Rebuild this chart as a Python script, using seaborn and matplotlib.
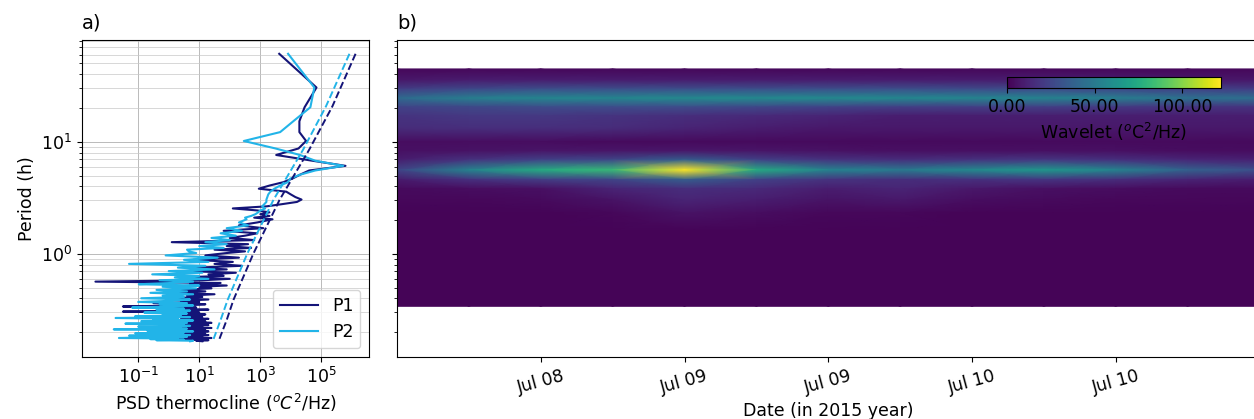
import numpy as np
import pandas as pd
import seaborn as sns
import matplotlib.pyplot as plt
import matplotlib.dates as mdates
import matplotlib.ticker as mticker

plt.rcParams['font.size'] = 12.5

# === 1. Spectra (panel a) ===
record_length_h = 61.0
harmonic = list(range(1, 31)) + list(range(32, 61, 2)) + list(range(63, 121, 3)) + list(range(124, 369, 4))

# log10 of PSD
p1_log_psd = [3.62, 4.84, 4.45, 4.28, 4.28, 4.5, 4.25, 3.52, 4.7, 5.79,
              4.6, 4.3, 4.05, 3.75, 3.3, 2.95, 3.85, 4.0, 4.15, 4.35,
              4.2, 3.7, 3.2, 2.1, 2.9, 3.3, 3.0, 3.3, 2.8, 3.4,
              2.9, 2.3, 3.1, 1.8, 2.9, 2.5, 2.0, 2.8, 0.1, 2.6, 1.9, 2.7, 1.5, 2.5, 1.9,
              1.2, 2.3, 0.8, 2.1, 1.5, 2.4, 0.9, 1.9, 0.6, 2.2,
              1.3, 1.8, 0.4, 2.0, 1.1, -2.4, 1.7, 0.7, 1.9, 1.0,
              1.4, 0.3, 1.2, -0.1, 1.5, 0.6, 1.1, 0.0, 1.3, 0.4,
              1.0, -0.5, 1.2, 0.5, -1.5, 0.9, 0.2, 1.3, 0.6, -1.5,
              1.0, 0.3, 1.2, 0.7, -0.3, 1.1, 0.4, 1.3, 0.8, 0.0,
              1.2, 0.5, 1.4, -0.6, 0.9, 1.3, 0.2, 1.1, 0.6, 1.4,
              -0.9, 0.8, 1.2, 0.1, 1.3, 0.7, 1.0, -0.4, 1.2, 0.5,
              1.3, 0.9, -0.2, 1.1, 0.6, 1.4, 0.3, 1.2, 0.8, 1.3,
              0.9, 1.1]
p2_log_psd = [3.91, 4.77, 4.64, 4.08, 3.65, 2.46, 3.5, 4.3, 4.8, 5.72,
              4.8, 4.3, 3.98, 3.9, 3.65, 3.46, 3.33, 3.26, 3.23, 3.2,
              3.2, 3.13, 3.06, 3.16, 3.0, 2.93, 2.84, 2.7, 2.5, 2.55,
              2.3, 2.6, 1.9, 2.4, 1.7, 2.2, 1.4, 2.0, 1.2, 1.9, 1.0, 1.8, 0.6, 0.66, 0.9,
              -0.1, 1.6, 0.5, 1.3, -1.3, 1.2, 0.3, 1.5, 0.0, 1.1,
              -0.54, 1.0, 0.2, 1.3, -0.3, 0.8, 0.1, -0.98, 1.0, -0.2,
              0.9, -0.4, 0.6, -0.6, 0.8, -0.2, 0.5, -0.9, 0.7, 0.1,
              -1.0, 0.6, -0.3, 0.8, 0.0, -1.2, 0.5, -0.4, 0.7, 0.1,
              -0.8, 0.6, -0.2, 0.4, -1.1, 0.7, -1.74, 0.3, -0.5, 0.8,
              -0.9, 0.2, 0.6, -1.42, 0.5, -0.3, 0.7, -1.0, 0.4, -0.6,
              0.6, -1.8, 0.3, -0.7, 0.8, -0.2, 0.5, -1.1, 0.4, -0.5,
              0.7, -1.3, 0.2, 0.6, -0.8, -1.63, 0.3, -0.6, 0.5, -0.4,
              0.8, 0.7]

# significance curves (dashed)
signif_period_h = [61.0, 20.7, 8.49, 3.03, 1.0, 0.388, 0.257, 0.168]
p1_signif_log = [6.12, 5.36, 4.60, 3.63, 2.77, 2.12, 1.90, 1.64]
p2_signif_log = [5.92, 5.15, 4.40, 3.43, 2.57, 1.93, 1.70, 1.45]

c_p1 = '#141478'
c_p2 = '#22b4e8'

spec = pd.DataFrame({'period': record_length_h / np.array(harmonic),
                     'P1': 10 ** np.array(p1_log_psd),
                     'P2': 10 ** np.array(p2_log_psd)})
signif = pd.DataFrame({'period': signif_period_h,
                       'P1': 10 ** np.array(p1_signif_log),
                       'P2': 10 ** np.array(p2_signif_log)})

# === 2. Wavelet power (panel b) ===
wave_times = ['2015-07-08 00:00', '2015-07-08 06:00', '2015-07-08 12:00', '2015-07-08 18:00',
              '2015-07-09 00:00', '2015-07-09 06:00', '2015-07-09 12:00', '2015-07-09 18:00',
              '2015-07-10 00:00', '2015-07-10 06:00', '2015-07-10 12:00', '2015-07-10 18:00',
              '2015-07-11 00:00']
wave_period_h = [44.7, 35.5, 29.5, 24.5, 20.4, 17.0, 13.2, 10.0, 8.3, 6.9,
                 5.6, 4.6, 3.8, 3.0, 2.3, 1.6, 1.0, 0.63, 0.34]
wave_power = [
    [2, 2, 2, 2, 2, 2, 2, 2, 2, 2, 2, 2, 2],
    [8, 10, 10, 10, 10, 10, 10, 10, 10, 10, 10, 8, 8],
    [22, 27, 30, 30, 30, 30, 30, 30, 28, 28, 27, 24, 22],
    [42, 52, 56, 56, 58, 58, 58, 57, 56, 55, 52, 46, 44],
    [24, 26, 28, 28, 28, 26, 24, 22, 22, 22, 20, 18, 18],
    [18, 20, 20, 18, 16, 14, 12, 10, 10, 10, 10, 10, 10],
    [15, 16, 16, 15, 12, 10, 8, 8, 8, 8, 8, 8, 8],
    [4, 4, 4, 3, 3, 3, 3, 3, 3, 3, 3, 3, 3],
    [5, 6, 7, 7, 8, 7, 6, 5, 5, 5, 5, 4, 4],
    [10, 18, 24, 26, 36, 24, 18, 16, 18, 20, 17, 13, 11],
    [25, 55, 75, 82, 122, 75, 55, 50, 58, 65, 55, 38, 30],
    [9, 17, 22, 25, 36, 24, 18, 16, 17, 19, 16, 12, 10],
    [3, 4, 5, 12, 16, 14, 10, 12, 8, 5, 4, 3, 3],
    [2, 2, 3, 6, 12, 10, 6, 8, 4, 3, 2, 2, 2],
    [1, 1, 1, 2, 6, 4, 2, 2, 1, 1, 1, 1, 1],
    [1, 1, 1, 1, 1, 1, 1, 1, 1, 1, 1, 1, 1],
    [1, 1, 1, 1, 1, 1, 1, 1, 1, 1, 1, 1, 1],
    [1, 1, 1, 1, 1, 1, 1, 1, 1, 1, 1, 1, 1],
    [1, 1, 1, 1, 1, 1, 1, 1, 1, 1, 1, 1, 1],
]
date_ticks = ['2015-07-08 12:00', '2015-07-09 00:00', '2015-07-09 12:00',
              '2015-07-10 00:00', '2015-07-10 12:00']

# === 3. Figure ===
fig = plt.figure(figsize=(12.54, 4.19), dpi=100)
ax_a = fig.add_axes([82 / 1254, 62 / 419, 287 / 1254, 317 / 419])
ax_b = fig.add_axes([397 / 1254, 62 / 419, 862.5 / 1254, 317 / 419])

sns.lineplot(data=spec, x='P1', y='period', sort=False, estimator=None,
             color=c_p1, lw=1.5, label='P1', ax=ax_a)
sns.lineplot(data=spec, x='P2', y='period', sort=False, estimator=None,
             color=c_p2, lw=1.5, label='P2', ax=ax_a)
sns.lineplot(data=signif, x='P1', y='period', sort=False, estimator=None,
             color=c_p1, lw=1.4, ls='--', ax=ax_a)
sns.lineplot(data=signif, x='P2', y='period', sort=False, estimator=None,
             color=c_p2, lw=1.4, ls='--', ax=ax_a)

ax_a.set_xscale('log')
ax_a.set_yscale('log')
ax_a.set_xlim(10 ** -2.84, 10 ** 6.56)
ax_a.set_ylim(0.12, 81)
ax_a.xaxis.set_major_locator(mticker.FixedLocator([1e-1, 1e1, 1e3, 1e5]))
ax_a.xaxis.set_minor_locator(mticker.NullLocator())
ax_a.grid(True, which='major', color='#b0b0b0', lw=0.6)
ax_a.grid(True, which='minor', axis='y', color='#c8c8c8', lw=0.5)
ax_a.set_xlabel('PSD thermocline ($^oC^2$/Hz)')
ax_a.set_ylabel('Period (h)')
ax_a.set_title('a)', loc='left', fontsize=14, pad=8)
ax_a.legend(loc='lower right', handlelength=2.2)

# wavelet map
t_num = mdates.date2num(pd.to_datetime(wave_times))
T, P = np.meshgrid(t_num, wave_period_h)
mesh = ax_b.pcolormesh(T, P, np.array(wave_power, dtype=float), shading='gouraud',
                       cmap='viridis', vmin=0, vmax=122)
ax_b.set_yscale('log')
ax_b.set_ylim(0.12, 81)
ax_b.tick_params(axis='y', which='both', labelleft=False)
ax_b.set_xlim(t_num[0], t_num[-1])
ax_b.xaxis.set_major_locator(mticker.FixedLocator(mdates.date2num(pd.to_datetime(date_ticks))))
ax_b.xaxis.set_major_formatter(mdates.DateFormatter('%b %d'))
plt.setp(ax_b.get_xticklabels(), rotation=15)
ax_b.set_xlabel('Date (in 2015 year)')
ax_b.set_title('b)', loc='left', fontsize=14, pad=8)

cax = fig.add_axes([1007 / 1254, 331 / 419, 214 / 1254, 11 / 419])
cb = fig.colorbar(mesh, cax=cax, orientation='horizontal', ticks=[0, 50, 100], format='%.2f')
cb.set_label('Wavelet ($^o$C$^2$/Hz)')

fig.savefig('out.png', dpi=100)
